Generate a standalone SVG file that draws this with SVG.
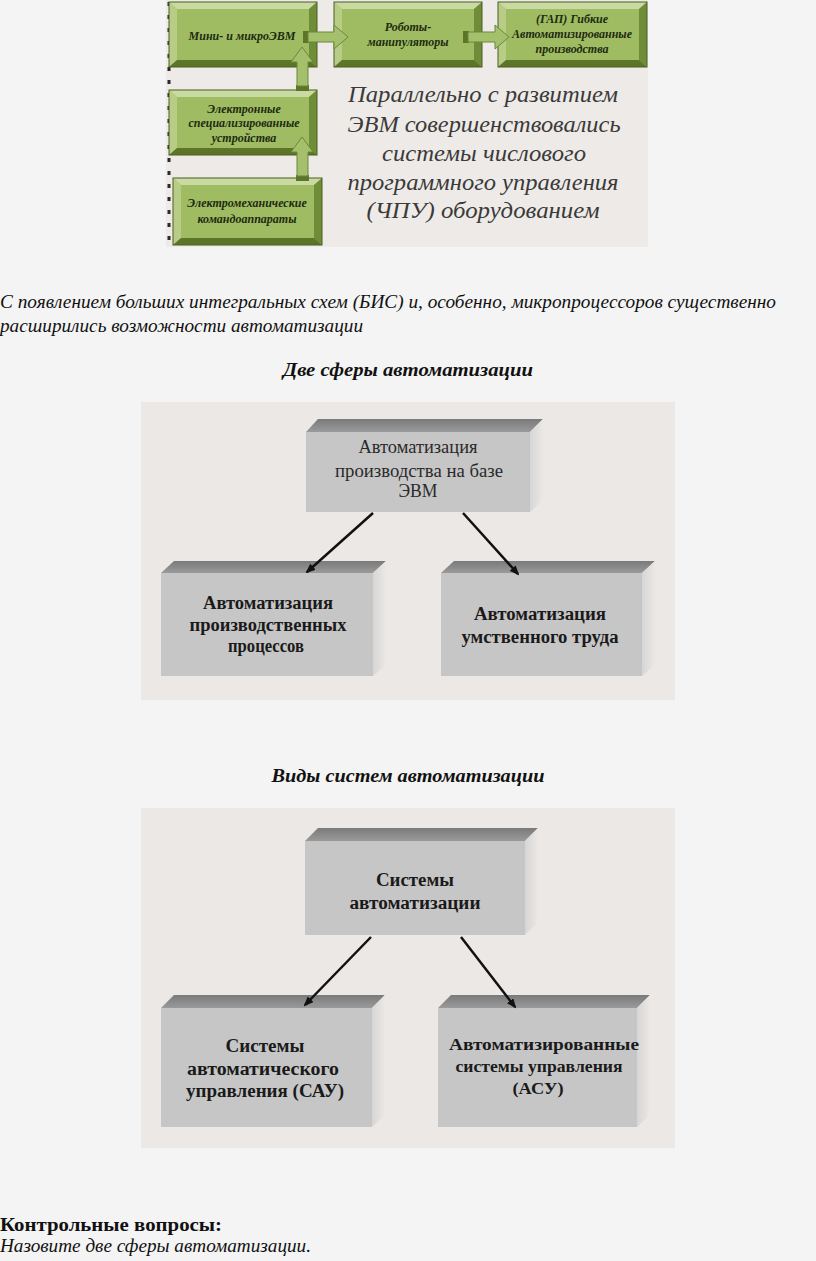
<svg xmlns="http://www.w3.org/2000/svg" width="816" height="1261" viewBox="0 0 816 1261">
<defs>
<style>
.gface{fill:#9fbc63}
.gtop{fill:#c9dba2}
.gleft{fill:#b7cd86}
.gright{fill:#6f8c39}
.gbot{fill:#5c7529}
.gout{fill:none;stroke:#4a5e22;stroke-width:1}
.gt{font-family:"Liberation Serif",serif;font-style:italic;font-weight:bold;font-size:12px;fill:#1e2a10;text-anchor:middle}
.garrow{fill:#a4c06c;stroke:#6b8838;stroke-width:1}
.par{font-family:"Liberation Serif",serif;font-style:italic;font-size:24px;fill:#3a3a3a;text-anchor:middle}
.body{font-family:"Liberation Serif",serif;font-style:italic;font-size:18px;fill:#111}
.head{font-family:"Liberation Serif",serif;font-style:italic;font-weight:bold;font-size:18px;fill:#111;text-anchor:middle}
.panel{fill:#ebe8e5}
.front{fill:#c6c6c6}
.topf{fill:url(#topg)}
.side{fill:url(#sideg)}
.bt{font-family:"Liberation Serif",serif;font-weight:bold;font-size:18.5px;fill:#1a1a1a;text-anchor:middle}
.rt{font-family:"Liberation Serif",serif;font-size:18.5px;fill:#2a2a2a;text-anchor:middle}
.conn{stroke:#111;stroke-width:2.5;fill:none;marker-end:url(#ah)}
</style>
<linearGradient id="topg" x1="0" y1="0" x2="0" y2="1">
<stop offset="0" stop-color="#7a7a7a"/><stop offset="1" stop-color="#9a9a9a"/>
</linearGradient>
<linearGradient id="sideg" x1="0" y1="0" x2="1" y2="0">
<stop offset="0" stop-color="#d6d6d6"/><stop offset="1" stop-color="#ebe8e5"/>
</linearGradient>
<marker id="ah" markerWidth="10" markerHeight="8" refX="8" refY="4" orient="auto" markerUnits="userSpaceOnUse">
<path d="M0,0 L10,4 L0,8 Z" fill="#111"/>
</marker>
</defs>
<rect width="816" height="1261" fill="#f4f4f4"/>

<!-- top panel -->
<g id="panel-top">
<rect x="166" y="0" width="482" height="247" fill="#eeeae7"/>
<line x1="169" y1="2" x2="169" y2="246" stroke="#2a2a2a" stroke-width="3" stroke-dasharray="4 9"/>
</g>

<g id="g-mini">
<rect class="gface" x="169" y="2" width="148" height="65"/>
<polygon class="gtop" points="169,2 317,2 309,9 177,9"/>
<polygon class="gleft" points="169,2 177,9 177,60 169,67"/>
<polygon class="gright" points="317,2 317,67 309,60 309,9"/>
<polygon class="gbot" points="169,67 177,60 309,60 317,67"/>
<rect class="gout" x="169" y="2" width="148" height="65"/>
<text class="gt" x="242" y="40">Мини- и микроЭВМ</text>
</g>

<g id="g-robots">
<rect class="gface" x="334" y="2" width="148" height="65"/>
<polygon class="gtop" points="334,2 482,2 474,9 342,9"/>
<polygon class="gleft" points="334,2 342,9 342,60 334,67"/>
<polygon class="gright" points="482,2 482,67 474,60 474,9"/>
<polygon class="gbot" points="334,67 342,60 474,60 482,67"/>
<rect class="gout" x="334" y="2" width="148" height="65"/>
<text class="gt" x="408" y="31">Роботы-</text>
<text class="gt" x="408" y="46">манипуляторы</text>
</g>

<g id="g-gap">
<rect class="gface" x="498" y="2" width="149" height="65"/>
<polygon class="gtop" points="498,2 647,2 639,9 506,9"/>
<polygon class="gleft" points="498,2 506,9 506,60 498,67"/>
<polygon class="gright" points="647,2 647,67 639,60 639,9"/>
<polygon class="gbot" points="498,67 506,60 639,60 647,67"/>
<rect class="gout" x="498" y="2" width="149" height="65"/>
<text class="gt" x="572" y="23">(ГАП) Гибкие</text>
<text class="gt" x="572" y="38">Автоматизированные</text>
<text class="gt" x="572" y="53">производства</text>
</g>

<g id="g-elec">
<rect class="gface" x="169" y="90" width="148" height="65"/>
<polygon class="gtop" points="169,90 317,90 309,97 177,97"/>
<polygon class="gleft" points="169,90 177,97 177,148 169,155"/>
<polygon class="gright" points="317,90 317,155 309,148 309,97"/>
<polygon class="gbot" points="169,155 177,148 309,148 317,155"/>
<rect class="gout" x="169" y="90" width="148" height="65"/>
<text class="gt" x="244" y="113">Электронные</text>
<text class="gt" x="244" y="127">специализированные</text>
<text class="gt" x="244" y="142">устройства</text>
</g>

<g id="g-electromech">
<rect class="gface" x="173" y="178" width="149" height="67"/>
<polygon class="gtop" points="173,178 322,178 314,185 181,185"/>
<polygon class="gleft" points="173,178 181,185 181,238 173,245"/>
<polygon class="gright" points="322,178 322,245 314,238 314,185"/>
<polygon class="gbot" points="173,245 181,238 314,238 322,245"/>
<rect class="gout" x="173" y="178" width="149" height="67"/>
<text class="gt" x="247" y="207">Электромеханические</text>
<text class="gt" x="247" y="223">командоаппараты</text>
</g>

<g id="connectors-top">
<rect x="303" y="31" width="6" height="12" fill="#5c7529"/>
<polygon class="garrow" points="308,32 334,32 334,25 348,37 334,49 334,42 308,42"/>
<rect x="463" y="31" width="6" height="12" fill="#5c7529"/>
<polygon class="garrow" points="468,32 495,32 495,25 509,37 495,49 495,42 468,42"/>
<rect x="296" y="85" width="13" height="6" fill="#5c7529"/>
<polygon class="garrow" points="297,86 297,62 291,62 302,47 313,62 308,62 308,86"/>
<rect x="296" y="175" width="13" height="6" fill="#5c7529"/>
<polygon class="garrow" points="297,176 297,152 291,152 302,137 313,152 308,152 308,176"/>
</g>

<g id="parallel-text">
<text class="par" x="483" y="102" textLength="270" lengthAdjust="spacingAndGlyphs">Параллельно с развитием</text>
<text class="par" x="484" y="132" textLength="273" lengthAdjust="spacingAndGlyphs">ЭВМ совершенствовались</text>
<text class="par" x="484" y="161" textLength="204" lengthAdjust="spacingAndGlyphs">системы числового</text>
<text class="par" x="483" y="190" textLength="271" lengthAdjust="spacingAndGlyphs">программного управления</text>
<text class="par" x="483" y="218" textLength="233" lengthAdjust="spacingAndGlyphs">(ЧПУ) оборудованием</text>
</g>

<g id="intro-text">
<text class="body" x="0" y="308" textLength="776" lengthAdjust="spacingAndGlyphs">С появлением больших интегральных схем (БИС) и, особенно, микропроцессоров существенно</text>
<text class="body" x="0" y="332" textLength="363" lengthAdjust="spacingAndGlyphs">расширились возможности автоматизации</text>
<text class="head" x="408" y="376" textLength="250" lengthAdjust="spacingAndGlyphs">Две сферы автоматизации</text>
</g>

<!-- second panel -->
<rect id="panel-2" class="panel" x="141" y="402" width="534" height="298"/>

<g id="n-auto-evm">
<polygon class="topf" points="306,432 530,432 543,419 318,419"/>
<polygon class="side" points="530,432 543,419 543,500 530,512"/>
<rect class="front" x="306" y="432" width="224" height="80"/>
<text class="rt" x="418" y="453" textLength="119" lengthAdjust="spacingAndGlyphs">Автоматизация</text>
<text class="rt" x="419" y="477" textLength="168" lengthAdjust="spacingAndGlyphs">производства на базе</text>
<text class="rt" x="418" y="497" textLength="39" lengthAdjust="spacingAndGlyphs">ЭВМ</text>
</g>

<g id="n-auto-proc">
<polygon class="topf" points="161,573 373,573 386,561 174,561"/>
<polygon class="side" points="373,573 386,561 386,665 373,676"/>
<rect class="front" x="161" y="573" width="212" height="103"/>
<text class="bt" x="268" y="609" textLength="130" lengthAdjust="spacingAndGlyphs">Автоматизация</text>
<text class="bt" x="268" y="631" textLength="157" lengthAdjust="spacingAndGlyphs">производственных</text>
<text class="bt" x="266" y="652" textLength="76" lengthAdjust="spacingAndGlyphs">процессов</text>
</g>

<g id="n-auto-mind">
<polygon class="topf" points="441,573 642,573 655,561 454,561"/>
<polygon class="side" points="642,573 655,561 655,665 642,676"/>
<rect class="front" x="441" y="573" width="201" height="103"/>
<text class="bt" x="540" y="620" textLength="132" lengthAdjust="spacingAndGlyphs">Автоматизация</text>
<text class="bt" x="540" y="643" textLength="157" lengthAdjust="spacingAndGlyphs">умственного труда</text>
</g>

<g id="connectors-2">
<line class="conn" x1="373" y1="513" x2="307" y2="572"/>
<line class="conn" x1="463" y1="513" x2="518" y2="574"/>
</g>

<text class="head" x="408" y="782" textLength="273" lengthAdjust="spacingAndGlyphs">Виды систем автоматизации</text>

<!-- third panel -->
<rect id="panel-3" class="panel" x="141" y="808" width="534" height="340"/>

<g id="n-systems">
<polygon class="topf" points="305,841 525,841 538,828 318,828"/>
<polygon class="side" points="525,841 538,828 538,922 525,935"/>
<rect class="front" x="305" y="841" width="220" height="94"/>
<text class="bt" x="415" y="886" textLength="78" lengthAdjust="spacingAndGlyphs">Системы</text>
<text class="bt" x="415" y="909" textLength="131" lengthAdjust="spacingAndGlyphs">автоматизации</text>
</g>

<g id="n-sau">
<polygon class="topf" points="161,1008 372,1008 385,995 174,995"/>
<polygon class="side" points="372,1008 385,995 385,1115 372,1127"/>
<rect class="front" x="161" y="1008" width="211" height="119"/>
<text class="bt" x="265" y="1052" textLength="79" lengthAdjust="spacingAndGlyphs">Системы</text>
<text class="bt" x="263" y="1075" textLength="152" lengthAdjust="spacingAndGlyphs">автоматического</text>
<text class="bt" x="265" y="1097" textLength="158" lengthAdjust="spacingAndGlyphs">управления (САУ)</text>
</g>

<g id="n-asu">
<polygon class="topf" points="438,1008 637,1008 650,995 451,995"/>
<polygon class="side" points="637,1008 650,995 650,1115 637,1127"/>
<rect class="front" x="438" y="1008" width="199" height="119"/>
<text class="bt" x="544" y="1050" style="font-size:17px" textLength="190" lengthAdjust="spacingAndGlyphs">Автоматизированные</text>
<text class="bt" x="539" y="1072" style="font-size:17px" textLength="167" lengthAdjust="spacingAndGlyphs">системы управления</text>
<text class="bt" x="538" y="1094" style="font-size:17px" textLength="51" lengthAdjust="spacingAndGlyphs">(АСУ)</text>
</g>

<g id="connectors-3">
<line class="conn" x1="371" y1="937" x2="305" y2="1005"/>
<line class="conn" x1="461" y1="937" x2="515" y2="1007"/>
</g>

<g id="questions">
<text x="0" y="1231" style="font-family:'Liberation Serif',serif;font-weight:bold;font-size:18px;fill:#111" textLength="222" lengthAdjust="spacingAndGlyphs">Контрольные вопросы:</text>
<text class="body" x="0" y="1252" textLength="311" lengthAdjust="spacingAndGlyphs">Назовите две сферы автоматизации.</text>
</g>
</svg>
